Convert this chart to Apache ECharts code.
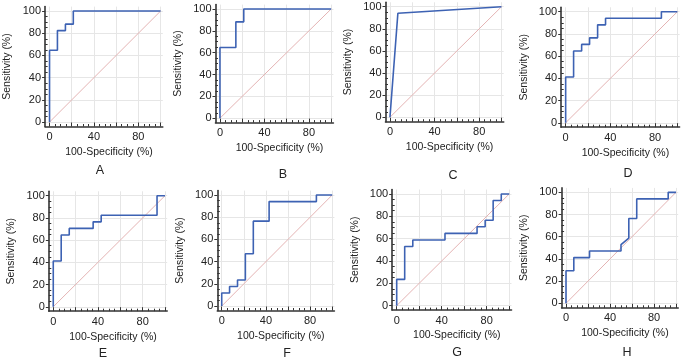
<!DOCTYPE html>
<html>
<head>
<meta charset="utf-8">
<script src="https://cdn.jsdelivr.net/npm/echarts@6/dist/echarts.min.js"></script>
<style>
  html, body { margin: 0; padding: 0; background: #fff; }
  #chart { width: 685px; height: 360px; }
</style>
</head>
<body>
<div id="chart"></div>
<script>
// ROC points (100-Specificity, Sensitivity)
const fprA = [0, 0, 7.1, 7.1, 14.3, 14.3, 21.4, 21.4, 100];
const tprA = [0, 64.7, 64.7, 82.4, 82.4, 88.2, 88.2, 100, 100];
const fprB = [0, 0, 14.3, 14.3, 21.4, 21.4, 100];
const tprB = [0, 64.7, 64.7, 88.2, 88.2, 100, 100];
const fprC = [0, 7.1, 100];
const tprC = [0, 94.1, 100];
const fprD = [0, 0, 7.1, 7.1, 14.3, 14.3, 21.4, 21.4, 28.6, 28.6, 35.7, 35.7, 85.7, 85.7, 100];
const tprD = [0, 41.2, 41.2, 64.7, 64.7, 70.6, 70.6, 76.5, 76.5, 88.2, 88.2, 94.1, 94.1, 100, 100];
const fprE = [0, 0, 7.1, 7.1, 14.3, 14.3, 35.7, 35.7, 42.9, 42.9, 92.9, 92.9, 100];
const tprE = [0, 41.2, 41.2, 64.7, 64.7, 70.6, 70.6, 76.5, 76.5, 82.4, 82.4, 100, 100];
const fprF = [0, 0, 7.1, 7.1, 14.3, 14.3, 21.4, 21.4, 28.6, 28.6, 42.9, 42.9, 85.7, 85.7, 100];
const tprF = [0, 11.8, 11.8, 17.6, 17.6, 23.5, 23.5, 47.1, 47.1, 76.5, 76.5, 94.1, 94.1, 100, 100];
const fprG = [0, 0, 7.1, 7.1, 14.3, 14.3, 42.9, 42.9, 71.4, 71.4, 78.6, 78.6, 85.7, 85.7, 92.9, 92.9, 100];
const tprG = [0, 23.5, 23.5, 52.9, 52.9, 58.8, 58.8, 64.7, 64.7, 70.6, 70.6, 76.5, 76.5, 94.1, 94.1, 100, 100];
const fprH = [0, 0, 7.1, 7.1, 21.4, 21.4, 50, 50, 57.1, 57.1, 64.3, 64.3, 92.9, 92.9, 100];
const tprH = [0, 29.4, 29.4, 41.2, 41.2, 47.1, 47.1, 52.9, 58.8, 76.5, 76.5, 94.1, 94.1, 100, 100];

// reference diagonal
const diagX = [0, 100];
const diagY = [0, 100];

const panelNames = ['A', 'B', 'C', 'D', 'E', 'F', 'G', 'H'];
const panelFpr = [fprA, fprB, fprC, fprD, fprE, fprF, fprG, fprH];
const panelTpr = [tprA, tprB, tprC, tprD, tprE, tprF, tprG, tprH];

const xLabelValues = [0, 40, 80];
const yLabelValues = [0, 20, 40, 60, 80, 100];
const majorTicks = [0, 20, 40, 60, 80, 100];
const minorTicks = [5, 10, 15, 25, 30, 35, 45, 50, 55, 65, 70, 75, 85, 90, 95];

// pixel boxes of each plot (axis range -4..102 / -4..104)
const boxes = [
    {left: 45.1, top: 6.6, width: 117.7, height: 119.9},
    {left: 215.5, top: 4.6, width: 117.9, height: 118.0},
    {left: 385.5, top: 2.3, width: 118.2, height: 119.4},
    {left: 561.2, top: 7.3, width: 118.4, height: 119.9},
    {left: 48.8, top: 191.3, width: 118.4, height: 119.9},
    {left: 217.3, top: 190.6, width: 117.1, height: 119.9},
    {left: 392.2, top: 189.5, width: 119.3, height: 120.6},
    {left: 561.6, top: 187.9, width: 116.6, height: 119.9}
];
const letterPos = [[100, 171], [283, 175], [453, 176], [628, 174], [103, 354], [287, 354], [457, 353], [627, 353]];

const FONT = '"Liberation Sans", Arial, sans-serif';
const AXIS_COLOR = '#333';

const chart = echarts.init(document.getElementById('chart'));

const grids = [], xAxes = [], yAxes = [], series = [], titles = [];

panelNames.forEach(function (name, i) {
    const b = boxes[i];
    grids.push({left: b.left, top: b.top, width: b.width, height: b.height, containLabel: false, outerBoundsMode: 'none'});

    // main x axis: line, major ticks, labels, grid lines, name
    xAxes.push({
        gridIndex: i, type: 'value', min: -4, max: 102, position: 'bottom',
        axisLine: {show: true, onZero: false, lineStyle: {color: AXIS_COLOR, width: 1.6}},
        axisTick: {show: true, inside: true, length: 4, customValues: majorTicks, lineStyle: {color: AXIS_COLOR}},
        axisLabel: {customValues: xLabelValues, fontSize: 11, color: '#222', margin: 5, fontFamily: FONT},
        splitLine: {show: true, lineStyle: {color: '#e6e6e6', width: 1}},
        name: '100-Specificity (%)', nameLocation: 'middle', nameGap: 20,
        nameTextStyle: {fontSize: 10.5, color: '#222', fontFamily: FONT, padding: [0, 0, 0, 10]}
    });
    // minor x ticks
    xAxes.push({
        gridIndex: i, type: 'value', min: -4, max: 102, position: 'bottom',
        axisLine: {show: false, onZero: false},
        axisTick: {show: true, inside: true, length: 2.5, customValues: minorTicks, lineStyle: {color: AXIS_COLOR}},
        axisLabel: {show: false},
        splitLine: {show: false}
    });

    yAxes.push({
        gridIndex: i, type: 'value', min: -4, max: 104, position: 'left',
        axisLine: {show: true, onZero: false, lineStyle: {color: AXIS_COLOR, width: 1.6}},
        axisTick: {show: true, inside: false, length: 3, customValues: majorTicks, lineStyle: {color: AXIS_COLOR}},
        axisLabel: {customValues: yLabelValues, fontSize: 11, color: '#222', margin: 4, fontFamily: FONT},
        splitLine: {show: true, lineStyle: {color: '#e6e6e6', width: 1}},
        name: 'Sensitivity (%)', nameLocation: 'middle', nameGap: 32,
        nameTextStyle: {fontSize: 10.5, color: '#222', fontFamily: FONT}
    });
    yAxes.push({
        gridIndex: i, type: 'value', min: -4, max: 104, position: 'left',
        axisLine: {show: false, onZero: false},
        axisTick: {show: true, inside: true, length: 2.5, customValues: minorTicks, lineStyle: {color: AXIS_COLOR}},
        axisLabel: {show: false},
        splitLine: {show: false}
    });

    series.push({
        type: 'line', xAxisIndex: i * 2, yAxisIndex: i * 2,
        data: diagX.map(function (x, k) { return [x, diagY[k]]; }),
        showSymbol: false, silent: true,
        lineStyle: {color: '#e4b3b3', width: 1}
    });
    series.push({
        type: 'line', xAxisIndex: i * 2, yAxisIndex: i * 2, name: name,
        data: panelFpr[i].map(function (x, k) { return [x, panelTpr[i][k]]; }),
        showSymbol: false, z: 3,
        lineStyle: {color: '#3d62b3', width: 1.6}
    });

    titles.push({
        text: name, left: letterPos[i][0], top: letterPos[i][1] - 7, textAlign: 'center', padding: 0,
        textStyle: {fontSize: 12.5, fontWeight: 'normal', color: '#222', fontFamily: FONT}
    });
});

chart.setOption({
    animation: false,
    title: titles,
    grid: grids,
    xAxis: xAxes,
    yAxis: yAxes,
    series: series
});
</script>
</body>
</html>
